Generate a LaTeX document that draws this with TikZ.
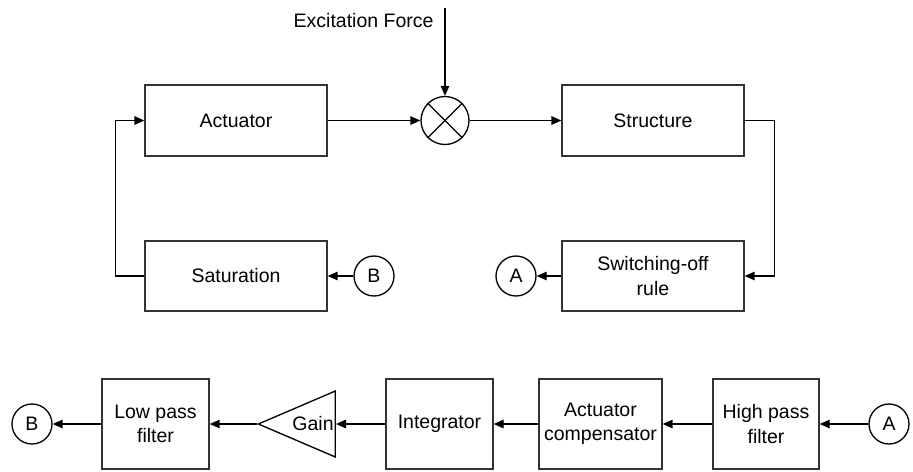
\documentclass[tikz,border=0pt]{standalone}
\usepackage{fontspec}
\setmainfont{Liberation Sans}
\usepackage{tikz}
\usetikzlibrary{arrows.meta,shapes.geometric}

\begin{document}
\begin{tikzpicture}[x=0.02cm,y=-0.02cm,line width=0.75pt,
    every node/.style={font=\fontsize{11.1}{13.7}\selectfont},
    block/.style={draw=black!80,rectangle,align=center,inner sep=2pt},
    port/.style={draw,circle,minimum size=0.8cm,inner sep=0pt},
    conn/.style={-{Triangle[length=2mm,width=1.7mm]}}]
    \useasboundingbox (0,0) rectangle (913,471);
    % upper loop
    \node[block,minimum width=3.64cm,minimum height=1.42cm] (act) at (236,120.5) {Actuator};
    \node[draw,circle,minimum size=0.96cm,inner sep=0pt] (sum) at (445,120.5) {};
    \draw (sum.north west) -- (sum.south east) (sum.north east) -- (sum.south west);
    \node[block,minimum width=3.64cm,minimum height=1.42cm] (str) at (653,120.5) {Structure};
    \node[block,minimum width=3.64cm,minimum height=1.40cm] (sat) at (236,276) {Saturation};
    \node[block,minimum width=3.64cm,minimum height=1.40cm] (sw) at (653,276) {Switching-off\\rule};
    \node[port] (b1) at (374,276) {B};
    \node[port] (a1) at (516,276) {A};
    \coordinate (exc) at (445,8);
    \node[anchor=base east] (force) at (440,27) {Excitation Force};
    \draw[conn] (exc) -- (sum);
    \draw[conn] (act) -- (sum);
    \draw[conn] (sum) -- (str);
    \draw[conn] (str.east) -- ++(30,0) |- (sw.east);
    \draw[conn] (sw) -- (a1);
    \draw[conn] (b1) -- (sat);
    \draw[conn] (sat.west) -- ++(-29,0) |- (act.west);
    % lower chain
    \node[port] (a2) at (889,424) {A};
    \node[block,minimum width=2.12cm,minimum height=1.8cm] (hp) at (766,424) {High pass\\filter};
    \node[block,minimum width=2.46cm,minimum height=1.8cm] (comp) at (600.5,424) {Actuator\\compensator};
    \node[block,minimum width=2.14cm,minimum height=1.8cm] (int) at (439.5,424) {Integrator};
    \node[draw,isosceles triangle,isosceles triangle stretches,shape border rotate=180,
          minimum width=1.32cm,minimum height=1.54cm,inner sep=0pt,anchor=east] (gain) at (336,424) {};
    \node (gaintxt) at (313,424) {Gain};
    \node[block,minimum width=2.14cm,minimum height=1.8cm] (lp) at (155.5,424) {Low pass\\filter};
    \node[port] (b2) at (32,424) {B};
    \draw[conn] (a2) -- (hp);
    \draw[conn] (hp) -- (comp);
    \draw[conn] (comp) -- (int);
    \draw[conn] (int) -- (gain.east);
    \draw[conn] (gain.apex) -- (lp);
    \draw[conn] (lp) -- (b2);
\end{tikzpicture}
\end{document}
